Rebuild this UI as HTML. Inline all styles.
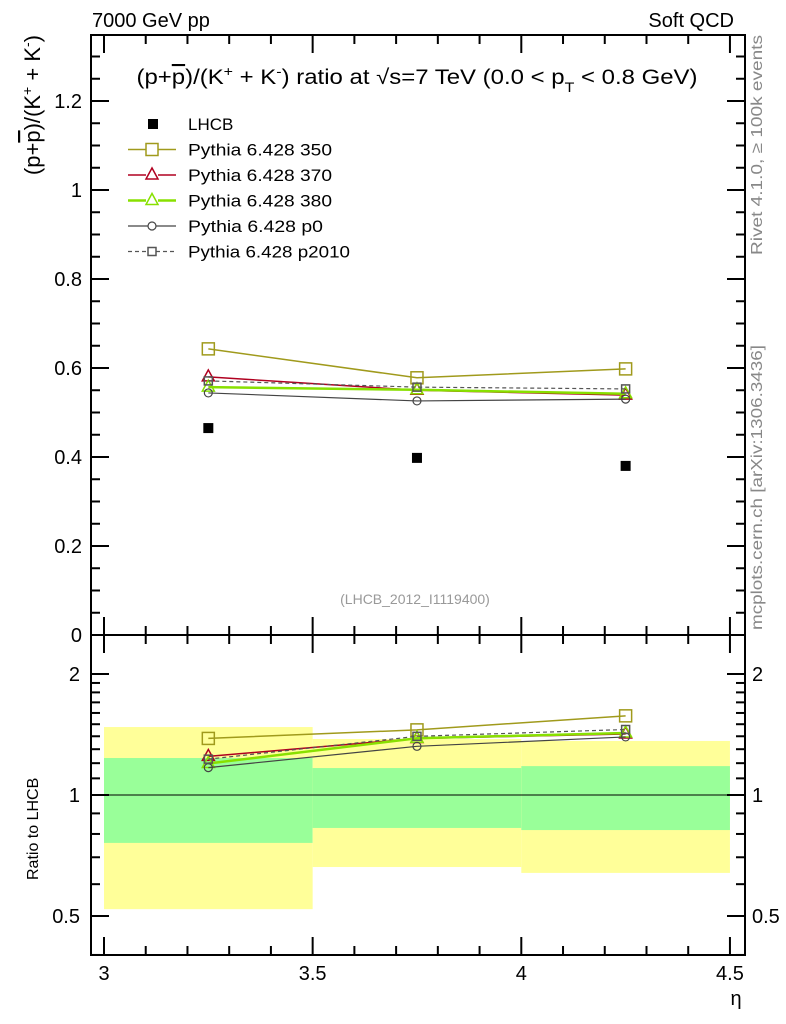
<!DOCTYPE html>
<html><head><meta charset="utf-8"><style>
body{margin:0;background:#fff;}
svg{display:block;font-family:"Liberation Sans",sans-serif;}
</style></head><body>
<svg id="c" width="786" height="1024" viewBox="0 0 786 1024"></svg>
<script>
const etaBins=[3.25,3.75,4.25];
const binEdges=[3,3.5,4,4.5];
const lhcb=[0.465,0.398,0.38];
const s350=[0.643,0.578,0.598];
const s370=[0.580,0.550,0.539];
const s380=[0.557,0.551,0.542];
const sp0=[0.544,0.526,0.530];
const sp2010=[0.571,0.557,0.553];
const greenLo=[0.76,0.828,0.818];
const greenHi=[1.236,1.167,1.18];
const yellowLo=[0.52,0.662,0.64];
const yellowHi=[1.476,1.378,1.363];
const yTicks=[0,0.2,0.4,0.6,0.8,1,1.2];
const yTickLabels=["0","0.2","0.4","0.6","0.8","1","1.2"];
const xTicks=[3,3.5,4,4.5];
const xTickLabels=["3","3.5","4","4.5"];
const rTicks=[0.5,1,2];
const rTickLabels=["0.5","1","2"];

const L=91,R=745,T=35,M=635,B=955;
const X=v=>104+(v-3)*417.3;
const Y=v=>635-v*445;
const YR=r=>795-121*Math.log2(r);
const svg=document.getElementById('c');
const NS='http://www.w3.org/2000/svg';
function el(tag,attrs,parent){const e=document.createElementNS(NS,tag);for(const k in attrs)e.setAttribute(k,attrs[k]);(parent||svg).appendChild(e);return e;}
function txt(s,x,y,size,anchor,fill,name,extra){const t=el('text',Object.assign({x:x,y:y,'font-size':size,'text-anchor':anchor||'start',fill:fill||'#000'},extra||{}));t.innerHTML=s;return t;}

for(let i=0;i<3;i++){
 const y1=el('rect',{x:X(binEdges[i]),y:YR(yellowHi[i]),width:X(binEdges[i+1])-X(binEdges[i]),height:YR(yellowLo[i])-YR(yellowHi[i]),fill:'#ffff99'});
 
 
 const g1=el('rect',{x:X(binEdges[i]),y:YR(greenHi[i]),width:X(binEdges[i+1])-X(binEdges[i]),height:YR(greenLo[i])-YR(greenHi[i]),fill:'#99ff99'});
 
 
}
el('line',{x1:L,x2:R,y1:YR(1),y2:YR(1),stroke:'#000','stroke-width':1});

const f1=el('rect',{x:L,y:T,width:R-L,height:M-T,fill:'none',stroke:'#000','stroke-width':2});

const f2=el('rect',{x:L,y:M,width:R-L,height:B-M,fill:'none',stroke:'#000','stroke-width':2});


for(let v=3;v<=4.5001;v+=0.1){
 const major=Math.abs(v*2-Math.round(v*2))<1e-6;const len=major?18:9;
 [B,M].forEach(y0=>el('line',{x1:X(v),x2:X(v),y1:y0,y2:y0-len,stroke:'#000','stroke-width':2}));
 [M,T].forEach(y0=>el('line',{x1:X(v),x2:X(v),y1:y0,y2:y0+len,stroke:'#000','stroke-width':2}));
}
xTicks.forEach((v,i)=>txt(xTickLabels[i],X(v),980,20,'middle','#000','x-tick-label'));
txt('η',736,1005,20,'middle','#000','x-axis-title');

for(let v=0;v<=1.35;v+=0.05){
 const major=Math.abs(v*5-Math.round(v*5))<1e-6;const len=major?18:9;
 el('line',{x1:L,x2:L+len,y1:Y(v),y2:Y(v),stroke:'#000','stroke-width':2});
 el('line',{x1:R,x2:R-len,y1:Y(v),y2:Y(v),stroke:'#000','stroke-width':2});
}
yTicks.forEach((v,i)=>txt(yTickLabels[i],82,Y(v)+7,20,'end','#000','y-tick-label'));

const rmin=[0.4,0.5,0.6,0.7,0.8,0.9,1,1.1,1.2,1.3,1.4,1.5,1.6,1.7,1.8,1.9,2];
rmin.forEach(r=>{const major=rTicks.includes(r);const len=major?18:9;
 el('line',{x1:L,x2:L+len,y1:YR(r),y2:YR(r),stroke:'#000','stroke-width':2});
 el('line',{x1:R,x2:R-len,y1:YR(r),y2:YR(r),stroke:'#000','stroke-width':2});});
rTicks.forEach((v,i)=>{txt(rTickLabels[i],80,YR(v)+7,20,'end','#000','ratio-tick-label');txt(rTickLabels[i],752,YR(v)+7,20,'start','#000','ratio-tick-label-right');});

txt('7000 GeV pp',92,27,20,'start','#000','energy-label');
txt('Soft QCD',734,27,20,'end','#000','process-label');
txt('(p+<tspan text-decoration="overline">p</tspan>)/(K<tspan baseline-shift="super" font-size="14">+</tspan> + K<tspan baseline-shift="super" font-size="14">-</tspan>) ratio at √s=7 TeV (0.0 &lt; p<tspan baseline-shift="sub" font-size="14">T</tspan> &lt; 0.8 GeV)',417,84,21,'middle','#000','plot-title',{textLength:561,lengthAdjust:'spacingAndGlyphs'});
txt('(LHCB_2012_I1119400)',415,604,14,'middle','#999','analysis-id');
txt('(p+<tspan text-decoration="overline">p</tspan>)/(K<tspan baseline-shift="super" font-size="14">+</tspan> + K<tspan baseline-shift="super" font-size="14">-</tspan>)',0,0,22,'end','#000','y-axis-title',{transform:'translate(40,35) rotate(-90)'});
txt('Ratio to LHCB',0,0,16,'start','#000','ratio-axis-title',{transform:'translate(38,880) rotate(-90)'});
txt('Rivet 4.1.0, ≥ 100k events',0,0,16,'end','#888','rivet-label',{transform:'translate(762,35) rotate(-90)',textLength:220,lengthAdjust:'spacingAndGlyphs'});
txt('mcplots.cern.ch [arXiv:1306.3436]',0,0,16,'end','#888','mcplots-label',{transform:'translate(762,345) rotate(-90)',textLength:285,lengthAdjust:'spacingAndGlyphs'});

const series=[
 {d:s350,c:'#a09a1c',m:'sq',w:1.5,name:'pythia-350',lab:'Pythia 6.428 350',sz:6},
 {d:s370,c:'#b00020',m:'tri',w:1.5,name:'pythia-370',lab:'Pythia 6.428 370',sz:6},
 {d:s380,c:'#88e000',m:'tri',w:2.5,name:'pythia-380',lab:'Pythia 6.428 380',sz:6},
 {d:sp0,c:'#444',m:'circ',w:1.2,name:'pythia-p0',lab:'Pythia 6.428 p0',sz:4},
 {d:sp2010,c:'#555',m:'sq',w:1.2,dash:'4,3',name:'pythia-p2010',lab:'Pythia 6.428 p2010',sz:4}];
function marker(type,x,y,s,c,name){let e;
 if(type==='sq')e=el('rect',{x:x-s,y:y-s,width:2*s,height:2*s,fill:'none',stroke:c,'stroke-width':1.5});
 else if(type==='tri')e=el('polygon',{points:`${x},${y-s-1} ${x-s},${y+s-2} ${x+s},${y+s-2}`,fill:'none',stroke:c,'stroke-width':1.5});
 else e=el('circle',{cx:x,cy:y,r:s,fill:'none',stroke:c,'stroke-width':1.2});
 
 }
series.forEach(s=>{
 const pts=s.d.map((v,i)=>X(etaBins[i])+','+Y(v)).join(' ');
 const pl=el('polyline',{points:pts,fill:'none',stroke:s.c,'stroke-width':s.w,'stroke-dasharray':s.dash||'none'});
 
 
 const rpts=s.d.map((v,i)=>X(etaBins[i])+','+YR(v/lhcb[i])).join(' ');
 const rl=el('polyline',{points:rpts,fill:'none',stroke:s.c,'stroke-width':s.w,'stroke-dasharray':s.dash||'none'});
 
 
 s.d.forEach((v,i)=>{marker(s.m,X(etaBins[i]),Y(v),s.sz,s.c,s.name+'-point');marker(s.m,X(etaBins[i]),YR(v/lhcb[i]),s.sz,s.c,s.name+'-ratio-point');});
});
lhcb.forEach((v,i)=>{const r=el('rect',{x:X(etaBins[i])-5,y:Y(v)-5,width:10,height:10,fill:'#000'});
 
 });

const ly0=124,ldy=25.5;
const le=el('rect',{x:148,y:ly0-5,width:10,height:10,fill:'#000'});

txt('LHCB',188,ly0+6,17,'start','#000','legend-entry');
series.forEach((s,i)=>{const y=ly0+ldy*(i+1);
 const l=el('line',{x1:128,x2:176,y1:y,y2:y,stroke:s.c,'stroke-width':s.w,'stroke-dasharray':s.dash||'none'});
 
 el('rect',{x:152-s.sz,y:y-s.sz,width:2*s.sz,height:2*s.sz,fill:'#fff'});
 marker(s.m,152,y,s.sz,s.c,'legend-marker');
 const t=txt(s.lab,188,y+6,17,'start','#000','legend-entry');
 t.setAttribute('textLength', s.lab.length*9);
 t.setAttribute('lengthAdjust','spacingAndGlyphs');});
</script>
</body></html>
